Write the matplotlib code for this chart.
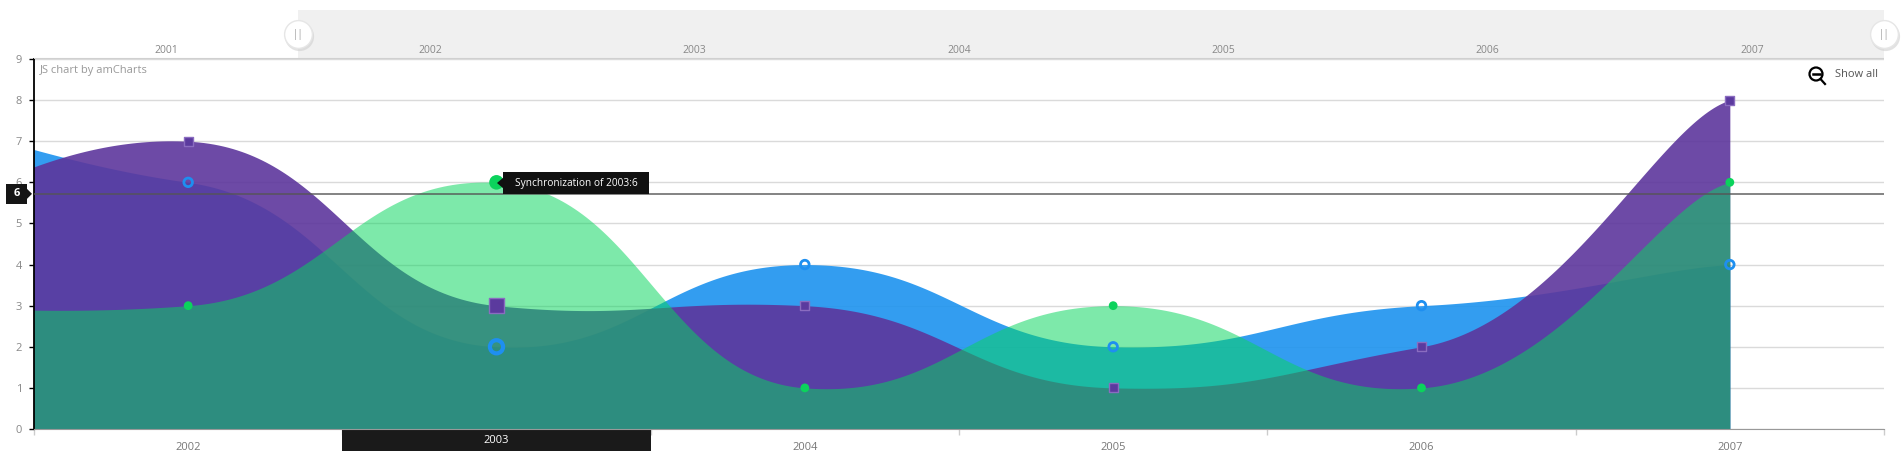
import matplotlib.pyplot as plt
import numpy as np
import matplotlib.transforms as mtransforms
from matplotlib.patches import Rectangle, Circle, Polygon

plt.rcParams['font.family'] = ['Open Sans', 'DejaVu Sans']

# data (2001 lies left of the zoomed window, only shapes the first curve piece)
years = [2001, 2002, 2003, 2004, 2005, 2006, 2007]
blue_vals = [7.7, 6, 2, 4, 2, 3, 4]
purple_vals = [5, 7, 3, 3, 1, 2, 8]
green_vals = [3, 3, 6, 1, 3, 1, 6]
y_ticks = list(range(10))
view_start, view_end = 2001.5, 2007.5
cursor_year = 2003
cursor_value = 5.72
tooltip_text = "Synchronization of 2003:6"

W, H = 1901, 461
AX_L, AX_R, AX_T, AX_B = 34, 1884, 59, 429


def tension_curve(xs, ys, tx=0.23, ty=0.085, n=80):
    # amCharts style cubic tension smoothing (separate x / y tension)
    pts = np.column_stack([xs, ys]).astype(float)
    tt = np.array([tx, ty])
    out = []
    for i in range(len(pts) - 1):
        p0 = pts[i - 1] if i > 0 else pts[i]
        p1 = pts[i]
        p2 = pts[i + 1]
        p3 = pts[i + 2] if i + 2 < len(pts) else pts[i + 1]
        a = p1 + tt * (p2 - p0)
        b = p2 - tt * (p3 - p1)
        s = np.linspace(0, 1, n)[:, None]
        seg = (1 - s)**3 * p1 + 3 * (1 - s)**2 * s * a + 3 * (1 - s) * s**2 * b + s**3 * p2
        out.append(seg if i == 0 else seg[1:])
    c = np.vstack(out)
    return c[:, 0], c[:, 1]


fig = plt.figure(figsize=(W / 100, H / 100), dpi=100)
ax = fig.add_axes([AX_L / W, 1 - AX_B / H, (AX_R - AX_L) / W, (AX_B - AX_T) / H])
ax.set_xlim(view_start, view_end)
ax.set_ylim(0, 9)

# fills: blue under purple under green
series = [
    (blue_vals, '#1d93ef', 0.9),
    (purple_vals, '#5d369c', 0.9),
    (green_vals, '#07d55d', 0.52),
]
for vals, col, a in series:
    cx, cy = tension_curve(years, vals)
    ax.fill_between(cx, cy, 0, color=col, alpha=a, lw=0, zorder=2)

ax.axhline(cursor_value, color='#555555', lw=1.2, alpha=0.85, zorder=3)

hover = [y == cursor_year for y in years]
ax.scatter(years, blue_vals, s=[90 if h else 38 for h in hover], facecolors='none',
           edgecolors='#1e8ff0', linewidths=[3 if h else 2 for h in hover], zorder=5)
ax.scatter(years, purple_vals, s=[110 if h else 42 for h in hover], marker='s',
           color='#5b3a9e', edgecolors='#8a6cc0', linewidths=1, zorder=5)
ax.scatter(years, green_vals, s=[110 if h else 40 for h in hover], color='#0bd35c',
           linewidths=0, zorder=6)

# axes styling
ax.set_yticks(y_ticks)
ax.yaxis.grid(True, color='#dadada', lw=1)
ax.set_axisbelow(True)
ax.tick_params(axis='y', colors='black', labelcolor='#888888', labelsize=8,
               length=3.6, width=1, pad=5)
shown = [y for y in years if view_start < y < view_end]
ax.set_xticks(shown)
ax.set_xticklabels(['' if y == cursor_year else str(y) for y in shown])
ax.set_xticks(np.arange(view_start, view_end + 0.5, 1.0), minor=True)
ax.tick_params(axis='x', which='major', length=0, labelsize=8, labelcolor='#777777', pad=9)
ax.tick_params(axis='x', which='minor', length=4, color='#cccccc', width=1)
for sp in ['top', 'right']:
    ax.spines[sp].set_visible(False)
ax.spines['left'].set_color('black')
ax.spines['left'].set_linewidth(1.3)
ax.spines['bottom'].set_color('#999999')

ax.text(0.003, 0.985, 'JS chart by amCharts', transform=ax.transAxes, fontsize=8,
        color='#999999', va='top', ha='left')

# cursor cell under the x axis
trans = mtransforms.blended_transform_factory(ax.transData, ax.transAxes)
ax.add_patch(Rectangle((cursor_year - 0.5, -22 / 370), 1, 22 / 370, transform=trans,
                       clip_on=False, fc='#1a1a1a', ec='none'))
ax.text(cursor_year, -11 / 370, str(cursor_year), transform=trans, color='white',
        fontsize=8, ha='center', va='center')

# scrollbar
sax = fig.add_axes([AX_L / W, 1 - AX_T / H, (AX_R - AX_L) / W, (AX_T - 10) / H])
sax.set_xlim(years[0] - 0.5, years[-1] + 0.5)
sax.set_ylim(0, 1)
sax.axis('off')
sax.axvspan(view_start, view_end, color='#f0f0f0', lw=0)
sax.axhline(0, color='#d0d0d0', lw=1.5)
for y in years:
    sax.text(y, 0.18, str(y), ha='center', va='center', fontsize=7.5, color='#888888')
for hx in [view_start, view_end]:
    sax.plot(hx + 0.004, 0.47, 'o', ms=21, color='#cfcfcf', alpha=0.6, mew=0, clip_on=False)
    sax.plot(hx, 0.5, 'o', ms=20, mfc='white', mec='#e6e6e6', mew=1, clip_on=False)
    sax.text(hx, 0.5, '||', ha='center', va='center', fontsize=7, color='#999999')

# overlay in pixel coords for tooltips and button
ov = fig.add_axes([0, 0, 1, 1], zorder=10)
ov.set_xlim(0, W)
ov.set_ylim(H, 0)
ov.axis('off')
ov.patch.set_alpha(0)

cy_px = AX_B - cursor_value * (AX_B - AX_T) / 9
ov.add_patch(Rectangle((6, cy_px - 10), 21, 20, fc='#151515', ec='none'))
ov.add_patch(Polygon([(27, cy_px - 5), (32, cy_px), (27, cy_px + 5)], fc='#151515', ec='none'))
ov.text(16.5, cy_px, str(round(cursor_value)), color='white', fontsize=8, ha='center',
        va='center', fontweight='bold')

ov.add_patch(Rectangle((503, 172), 146, 22, fc='#111111', ec='none'))
ov.add_patch(Polygon([(497, 183), (504, 177), (504, 189)], fc='#111111', ec='none'))
ov.text(576, 183.5, tooltip_text, color='white', fontsize=7.3, ha='center', va='center')

ov.add_patch(Circle((1816, 74), 6.5, fill=False, ec='black', lw=1.6))
ov.plot([1812.5, 1819.5], [74, 74], color='black', lw=1.8)
ov.plot([1820.5, 1825], [79, 84], color='black', lw=1.6)
ov.text(1835, 74.5, 'Show all', fontsize=8, color='#555555', ha='left', va='center')

fig.savefig('out.png', dpi=100)
